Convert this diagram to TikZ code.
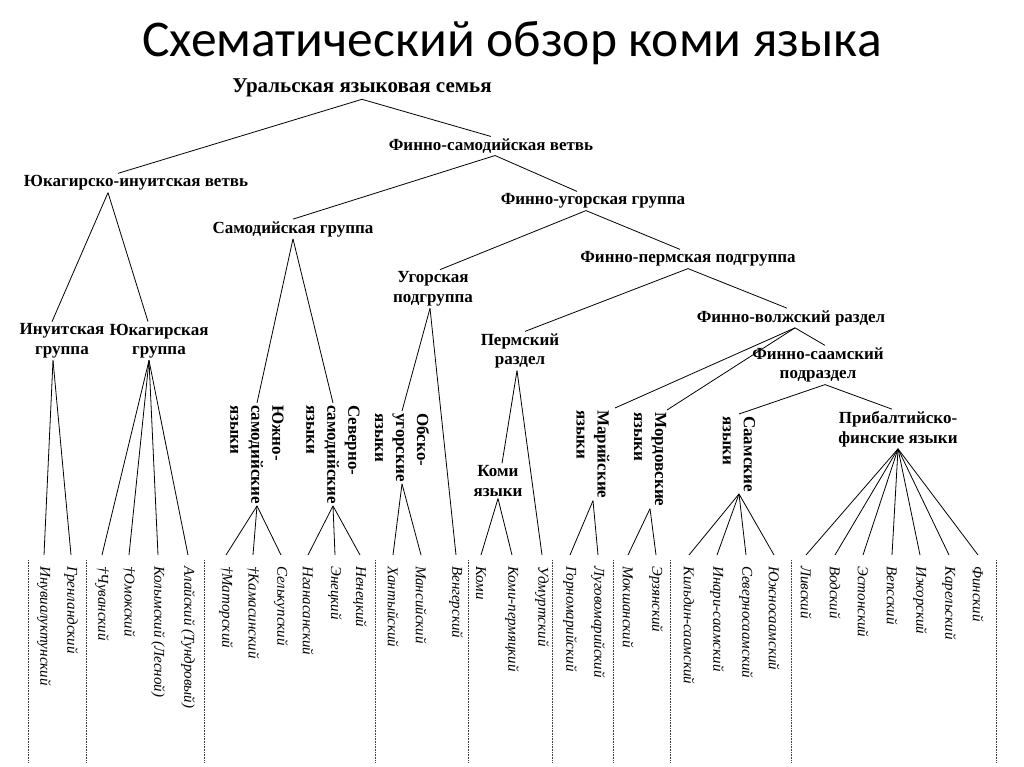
\documentclass[tikz,border=0pt]{standalone}
\usepackage{fontspec}
\setmainfont{Liberation Serif}
\newfontfamily\titlefont{Carlito}
\usetikzlibrary{calc}

\begin{document}
\begin{tikzpicture}
	[x=1pt,y=-1pt,
	 branch/.style={line width=0.8pt},
	 grp/.style={font=\bfseries\fontsize{17}{19.5}\selectfont,align=center,inner sep=2pt},
	 vgrp/.style={font=\bfseries\fontsize{17}{21}\selectfont,align=left,rotate=-90,anchor=west,inner sep=2pt},
	 leaf/.style={font=\itshape\fontsize{15}{16}\selectfont,rotate=-90,anchor=west,inner xsep=11pt,inner ysep=0pt},
	 divider/.style={line width=0.6pt,black!75,dash pattern=on 1pt off 0.6pt}]
	\useasboundingbox (0,0) rectangle (1024,767);
	\node[font=\titlefont\fontsize{51.5}{56}\selectfont] (title) at (512,43) {Схематический обзор коми языка};

	% upper levels of the tree
	\node[grp,font=\bfseries\fontsize{21}{24}\selectfont] (ural) at (362,88) {Уральская языковая семья};
	\node[grp] (fs) at (491,146) {Финно-самодийская ветвь};
	\node[grp] (yi) at (136,183) {Юкагирско-инуитская ветвь};
	\node[grp] (sam) at (293,229) {Самодийская группа};
	\node[grp] (fu) at (593,201) {Финно-угорская группа};
	\node[grp] (ug) at (433,289) {Угорская\\подгруппа};
	\node[grp] (fp) at (688,259) {Финно-пермская подгруппа};
	\node[grp] (fv) at (791,318) {Финно-волжский раздел};
	\node[grp] (perm) at (520,351) {Пермский\\раздел};
	\node[grp] (fsa) at (818,365) {Финно-саамский\\подраздел};
	\node[grp] (inu) at (62,341) {Инуитская\\группа};
	\node[grp] (yuk) at (159,341) {Юкагирская\\группа};
	\node[grp] (pb) at (898,429) {Прибалтийско-\\финские языки};
	\node[grp] (komi) at (498,481) {Коми\\языки};

	% rotated group labels
	\node[vgrp] (ssam) at (257,403) {Южно-\\самодийские\\языки};
	\node[vgrp] (nsam) at (333,403) {Северно-\\самодийские\\языки};
	\node[vgrp] (ob) at (402,411) {Обско-\\угорские\\языки};
	\node[vgrp] (mar) at (593,408) {Марийские\\языки};
	\node[vgrp] (mor) at (650,410) {Мордовские\\языки};
	\node[vgrp] (saam) at (739,414) {Саамские\\языки};

	% branches
	\draw[branch] (ural.south) -- ([xshift=-18pt]yi.north);
	\draw[branch] (ural.south) -- (fs.north);
	\draw[branch] ([xshift=-28pt]yi.south) -- ([xshift=-10pt]inu.north);
	\draw[branch] ([xshift=-28pt]yi.south) -- ([xshift=-11pt]yuk.north);
	\draw[branch] ([xshift=4pt]fs.south) -- (sam.north);
	\draw[branch] ([xshift=4pt]fs.south) -- ([xshift=-16pt]fu.north);
	\draw[branch] (sam.south) -- (ssam.west);
	\draw[branch] (sam.south) -- (nsam.west);
	\draw[branch] ([xshift=-7pt]fu.south) -- ([xshift=7pt]ug.north);
	\draw[branch] ([xshift=-7pt]fu.south) -- ([xshift=-8pt]fp.north);
	\draw[branch] ([xshift=-3pt]ug.south) -- (ob.west);
	\draw[branch] (fp.south) -- ([xshift=5pt]perm.north);
	\draw[branch] (fp.south) -- ([xshift=-4pt]fv.north);
	\draw[branch] ([xshift=-3pt]perm.south) -- ([xshift=4pt]komi.north);
	\draw[branch] ([xshift=4pt]fv.south) -- ([xshift=22pt]mar.west);
	\draw[branch] ([xshift=4pt]fv.south) -- ([xshift=17pt]mor.west);
	\draw[branch] ([xshift=4pt]fv.south) -- ([xshift=7pt]fsa.north);
	\draw[branch] ([xshift=7pt]fsa.south) -- (saam.west);
	\draw[branch] ([xshift=7pt]fsa.south) -- ([xshift=-6pt]pb.north);

	% languages
	\foreach \n/\x/\t in {i1/44/Инувиалуктунский, i2/71/Гренландский}
		{\node[leaf] (\n) at (\x,555) {\t}; \draw[branch] ([xshift=-9pt]inu.south) -- (\n.west);}
	\foreach \n/\x/\t in {y1/102/†Чуванский, y2/129/†Омокский, y3/158/Колымский (Лесной), y4/188/Алайский (Тундровый)}
		{\node[leaf] (\n) at (\x,555) {\t}; \draw[branch] ([xshift=-10pt]yuk.south) -- (\n.west);}
	\foreach \n/\x/\t in {s1/226/†Маторский, s2/253/†Камасинский, s3/281/Селькупский}
		{\node[leaf] (\n) at (\x,555) {\t}; \draw[branch] (ssam.east) -- (\n.west);}
	\foreach \n/\x/\t in {n1/308/Нганасанский, n2/335/Энецкий, n3/360/Ненецкий}
		{\node[leaf] (\n) at (\x,555) {\t}; \draw[branch] (nsam.east) -- (\n.west);}
	\foreach \n/\x/\t in {o1/393/Хантыйский, o2/421/Мансийский}
		{\node[leaf] (\n) at (\x,555) {\t}; \draw[branch] (ob.east) -- (\n.west);}
	\node[leaf] (veng) at (456,555) {Венгерский};
	\draw[branch] ([xshift=-3pt]ug.south) -- (veng.west);
	\foreach \n/\x/\t in {k1/481/Коми, k2/512/Коми-пермяцкий}
		{\node[leaf] (\n) at (\x,555) {\t}; \draw[branch] (komi.south) -- (\n.west);}
	\node[leaf] (udm) at (542,555) {Удмуртский};
	\draw[branch] ([xshift=-3pt]perm.south) -- (udm.west);
	\foreach \n/\x/\t in {m1/570/Горномарийский, m2/598/Луговомарийский}
		{\node[leaf] (\n) at (\x,555) {\t}; \draw[branch] (mar.east) -- (\n.west);}
	\foreach \n/\x/\t in {d1/628/Мокшанский, d2/656/Эрзянский}
		{\node[leaf] (\n) at (\x,555) {\t}; \draw[branch] (mor.east) -- (\n.west);}
	\foreach \n/\x/\t in {a1/689/Кильдин-саамский, a2/717/Инари-саамский, a3/746/Северносаамский, a4/774/Южносаамский}
		{\node[leaf] (\n) at (\x,555) {\t}; \draw[branch] (saam.east) -- (\n.west);}
	\foreach \n/\x/\t in {b1/806/Ливский, b2/835/Водский, b3/863/Эстонский, b4/892/Вепсский, b5/920/Ижорский, b6/949/Карельский, b7/978/Финский}
		{\node[leaf] (\n) at (\x,555) {\t}; \draw[branch] (pb.south) -- (\n.west);}

	% dotted dividers between the families
	\foreach \x in {28,86,204,375,468,552,613,670,791,996}
		\draw[divider] (\x,560) -- (\x,762);
\end{tikzpicture}
\end{document}
